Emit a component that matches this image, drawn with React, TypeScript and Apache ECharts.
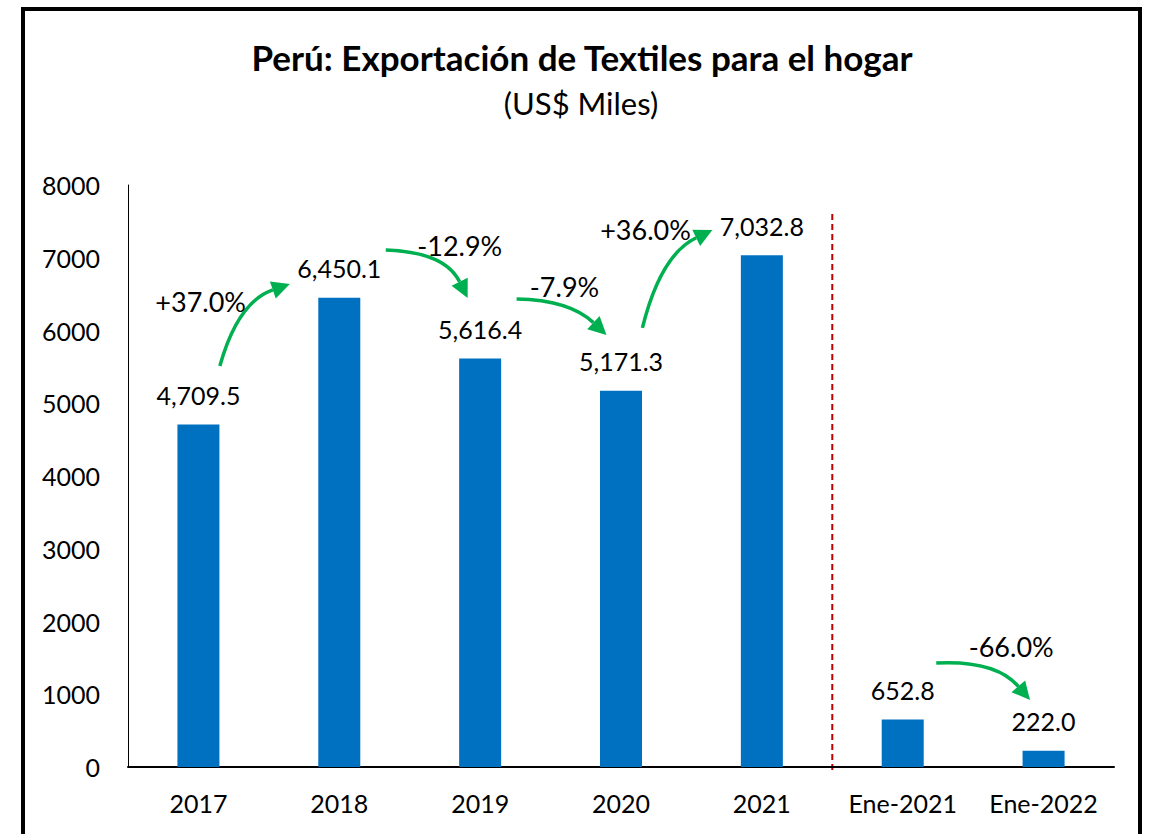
import React, { useEffect, useRef } from "react";
import * as echarts from "echarts";

const categories = ["2017", "2018", "2019", "2020", "2021", "Ene-2021", "Ene-2022"];
const values = [4709.5, 6450.1, 5616.4, 5171.3, 7032.8, 652.8, 222.0];
const yTicks = { min: 0, max: 8000, interval: 1000 };

// Variation annotations (green arrows): text, and anchors in data space [categoryIndex, value]
const changeLabels = ["+37.0%", "-12.9%", "-7.9%", "+36.0%", "-66.0%"];
const changeTextAt = [[0.016, 6392], [1.855, 7175], [2.599, 6598], [3.174, 7382], [5.77, 1663]];
const arrowStart = [[0.152, 5512], [1.33, 7107], [2.259, 6433], [3.152, 6035], [5.238, 1430]];
const arrowCtrl = [[0.28, 6392], [1.75, 7080], [2.634, 6420], [3.28, 7038], [5.66, 1471]];
const arrowTip = [[0.649, 6639], [1.911, 6447], [2.897, 5938], [3.649, 7382], [5.904, 921]];
const dividerAt = 4.5; // between 2021 and Ene-2021
const dividerTop = 7600;

const FONT = "Lato, 'Open Sans', sans-serif";
const GREEN = "#00B050";

export default function App() {
  const ref = useRef<HTMLDivElement>(null);

  useEffect(() => {
    document.body.style.margin = "0";
    const chart = echarts.init(ref.current!, null, { renderer: "svg" });
    const fmt = (v: number) =>
      v.toLocaleString("en-US", { minimumFractionDigits: 1, maximumFractionDigits: 1 });

    chart.setOption({
      animation: false,
      backgroundColor: "#ffffff",
      grid: { left: 128, right: 36, top: 185, bottom: 67 },
      xAxis: {
        type: "category",
        data: categories,
        axisLine: { lineStyle: { color: "#000", width: 2 } },
        axisTick: { show: false },
        axisLabel: { color: "#000", fontSize: 25, fontFamily: FONT, margin: 23, interval: 0 },
      },
      yAxis: {
        type: "value",
        min: yTicks.min,
        max: yTicks.max,
        interval: yTicks.interval,
        axisLine: { show: true, lineStyle: { color: "#000", width: 1 } },
        axisTick: { show: false },
        splitLine: { show: false },
        axisLabel: {
          color: "#000",
          fontSize: 25,
          fontFamily: FONT,
          margin: 28,
          formatter: (v: number) => String(v),
        },
      },
      series: [
        {
          type: "bar",
          data: values,
          barWidth: 42,
          itemStyle: { color: "#0070C0" },
          label: {
            show: true,
            position: "top",
            distance: 17,
            color: "#000",
            fontSize: 25,
            fontFamily: FONT,
            formatter: (p: any) => fmt(p.value),
          },
        },
      ],
    });

    const x0 = chart.convertToPixel({ xAxisIndex: 0 }, 0) as number;
    const x1 = chart.convertToPixel({ xAxisIndex: 0 }, 1) as number;
    const w = x1 - x0;
    const P = (a: number[]) => [x0 + a[0] * w, chart.convertToPixel({ yAxisIndex: 0 }, a[1]) as number];

    const graphics: any[] = [
      {
        type: "rect",
        shape: { x: 23, y: 9, width: 1117, height: 860 },
        style: { fill: "none", stroke: "#000", lineWidth: 4 },
        silent: true,
      },
      {
        type: "text",
        x: 582,
        y: 57,
        style: {
          text: "Perú: Exportación de Textiles para el hogar",
          fontSize: 35,
          fontWeight: "bold",
          fontFamily: FONT,
          fill: "#000",
          align: "center",
          verticalAlign: "middle",
        },
      },
      {
        type: "text",
        x: 581,
        y: 103,
        style: {
          text: "(US$ Miles)",
          fontSize: 31,
          fontFamily: FONT,
          fill: "#000",
          align: "center",
          verticalAlign: "middle",
        },
      },
    ];

    const dx = x0 + dividerAt * w;
    const yBottom = chart.convertToPixel({ yAxisIndex: 0 }, 0) as number;
    graphics.push({
      type: "line",
      shape: { x1: dx, y1: P([0, dividerTop])[1], x2: dx, y2: yBottom + 4 },
      style: { stroke: "#C00000", lineWidth: 2, lineDash: [6, 4] },
    });

    for (let i = 0; i < changeLabels.length; i++) {
      const s = P(arrowStart[i]);
      const c = P(arrowCtrl[i]);
      const t = P(arrowTip[i]);
      let ux = t[0] - c[0];
      let uy = t[1] - c[1];
      const len = Math.hypot(ux, uy) || 1;
      ux /= len;
      uy /= len;
      const L = 18;
      const H = 9;
      const bx = t[0] - ux * L;
      const by = t[1] - uy * L;
      const nx = -uy;
      const ny = ux;
      graphics.push({
        type: "bezierCurve",
        shape: { x1: s[0], y1: s[1], cpx1: c[0], cpy1: c[1], x2: bx, y2: by },
        style: { stroke: GREEN, lineWidth: 3.5, fill: "none" },
      });
      graphics.push({
        type: "polygon",
        shape: {
          points: [
            [t[0], t[1]],
            [bx + nx * H, by + ny * H],
            [bx - nx * H, by - ny * H],
          ],
        },
        style: { fill: GREEN },
      });
      const tp = P(changeTextAt[i]);
      graphics.push({
        type: "text",
        x: tp[0],
        y: tp[1],
        style: {
          text: changeLabels[i],
          fontSize: 27,
          fontFamily: FONT,
          fill: "#000",
          align: "center",
          verticalAlign: "middle",
        },
      });
    }

    chart.setOption({ graphic: graphics });

    return () => chart.dispose();
  }, []);

  return <div ref={ref} style={{ width: 1150, height: 834 }} />;
}
